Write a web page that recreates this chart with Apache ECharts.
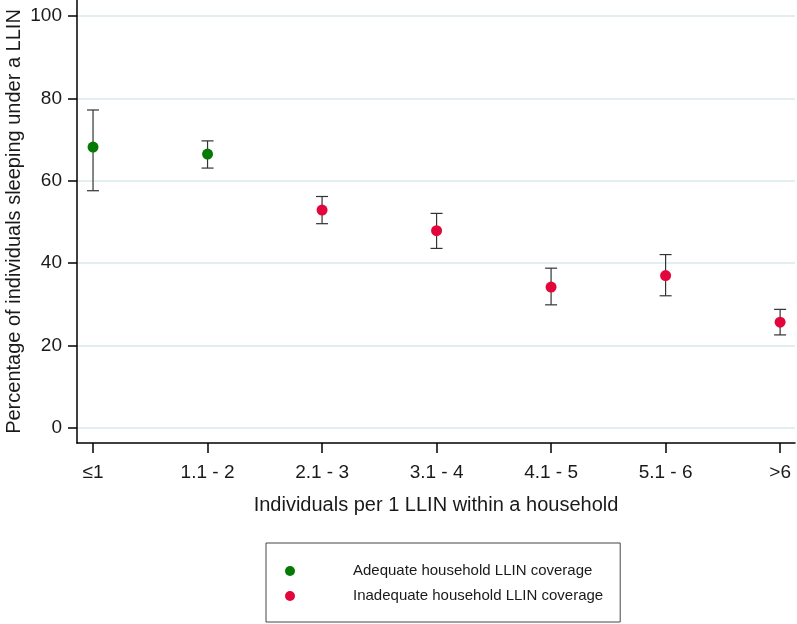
<!DOCTYPE html>
<html>
<head>
<meta charset="utf-8">
<script src="https://cdn.jsdelivr.net/npm/echarts@6/dist/echarts.min.js"></script>
<style>
  html, body { margin: 0; padding: 0; background: #fff; }
  #chart { width: 797px; height: 624px; }
</style>
</head>
<body>
<div id="chart"></div>
<script>
var categories = ['≤1', '1.1 - 2', '2.1 - 3', '3.1 - 4', '4.1 - 5', '5.1 - 6', '>6'];
var means = [68.2, 66.5, 52.9, 47.9, 34.2, 37.0, 25.7];
var lower = [57.6, 63.1, 49.6, 43.6, 29.9, 32.1, 22.6];
var upper = [77.2, 69.7, 56.2, 52.1, 38.8, 42.1, 28.8];
var adequate = [true, true, false, false, false, false, false];
var yTicks = [0, 20, 40, 60, 80, 100];

var xPos = categories.map(function (c, i) { return i + 1; });

var adequateData = [];
var inadequateData = [];
var barData = [];
for (var i = 0; i < categories.length; i++) {
    if (adequate[i]) {
        adequateData.push([xPos[i], means[i]]);
    } else {
        inadequateData.push([xPos[i], means[i]]);
    }
    barData.push([xPos[i], lower[i], upper[i]]);
}

var font = 'Liberation Sans, Arial, sans-serif';
var chart = echarts.init(document.getElementById('chart'));

var option = {
    animation: false,
    grid: { left: 77, right: 2, top: 0, bottom: 181, outerBoundsMode: 'none', containLabel: false },
    legend: {
        orient: 'vertical',
        left: 266,
        top: 543,
        padding: [20, 17, 18, 19],
        itemGap: 9,
        itemWidth: 10,
        itemHeight: 10,
        borderColor: '#444',
        borderWidth: 1,
        borderRadius: 0,
        textStyle: {
            fontFamily: font,
            fontSize: 15,
            color: '#1a1a1a',
            lineHeight: 16,
            padding: [0, 0, 0, 53]
        },
        data: [
            { name: 'Adequate household LLIN coverage', icon: 'circle' },
            { name: 'Inadequate household LLIN coverage', icon: 'circle' }
        ]
    },
    xAxis: {
        type: 'value',
        min: 0.86,
        max: 7.13,
        name: 'Individuals per 1 LLIN within a household',
        nameLocation: 'middle',
        nameGap: 52,
        nameMoveOverlap: false,
        nameTextStyle: { fontFamily: font, fontSize: 20, color: '#1a1a1a' },
        axisLine: { show: true, onZero: false, lineStyle: { color: '#000', width: 1.5 } },
        axisTick: { show: true, length: 10, customValues: xPos, lineStyle: { color: '#000', width: 1.5 } },
        axisLabel: {
            customValues: xPos,
            margin: 20,
            fontFamily: font,
            fontSize: 19,
            color: '#1a1a1a',
            formatter: function (v) { return categories[Math.round(v) - 1]; }
        },
        splitLine: { show: false }
    },
    yAxis: {
        type: 'value',
        min: -3.64,
        max: 103.9,
        name: 'Percentage of individuals sleeping under a LLIN',
        nameLocation: 'middle',
        nameGap: 53,
        nameMoveOverlap: false,
        nameTextStyle: { fontFamily: font, fontSize: 20, color: '#1a1a1a' },
        axisLine: { show: true, onZero: false, lineStyle: { color: '#000', width: 1.5 } },
        axisTick: { show: true, length: 9, customValues: yTicks, lineStyle: { color: '#000', width: 1.5 } },
        axisLabel: {
            customValues: yTicks,
            margin: 15,
            fontFamily: font,
            fontSize: 19,
            color: '#1a1a1a'
        },
        splitLine: { show: true, lineStyle: { color: '#e2eef0', width: 2 } }
    },
    series: [
        {
            name: 'errorbars',
            type: 'custom',
            z: 1,
            renderItem: function (params, api) {
                var x = api.value(0);
                var lo = api.coord([x, api.value(1)]);
                var hi = api.coord([x, api.value(2)]);
                var w = 6;
                var st = { stroke: '#333', lineWidth: 1.2 };
                return {
                    type: 'group',
                    children: [
                        { type: 'line', shape: { x1: lo[0], y1: lo[1], x2: hi[0], y2: hi[1] }, style: st },
                        { type: 'line', shape: { x1: lo[0] - w, y1: lo[1], x2: lo[0] + w, y2: lo[1] }, style: st },
                        { type: 'line', shape: { x1: hi[0] - w, y1: hi[1], x2: hi[0] + w, y2: hi[1] }, style: st }
                    ]
                };
            },
            data: barData
        },
        {
            name: 'Adequate household LLIN coverage',
            type: 'scatter',
            z: 3,
            symbolSize: 11,
            itemStyle: { color: '#047a04', opacity: 1 },
            data: adequateData
        },
        {
            name: 'Inadequate household LLIN coverage',
            type: 'scatter',
            z: 3,
            symbolSize: 11,
            itemStyle: { color: '#e2063a', opacity: 1 },
            data: inadequateData
        }
    ]
};

chart.setOption(option);
</script>
</body>
</html>
